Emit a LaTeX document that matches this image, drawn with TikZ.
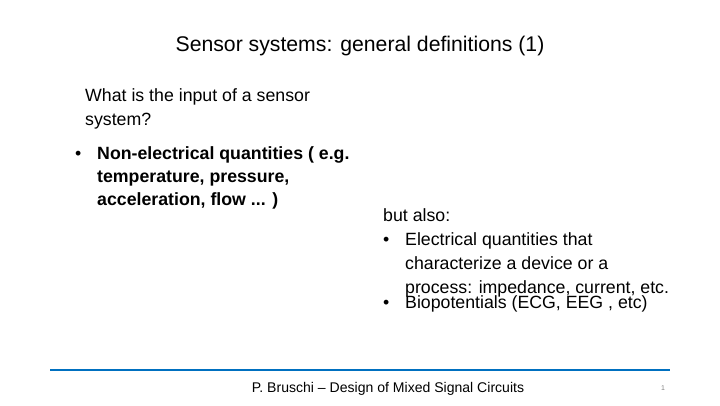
\documentclass[tikz,border=0pt]{standalone}
\usepackage{fontspec}
\setmainfont{Liberation Sans}
\begin{document}
\begin{tikzpicture}[x=1bp,y=-1bp]
    \useasboundingbox (0,0) rectangle (720,405);
    \node[anchor=base] (title) at (360,51) {\fontsize{21.3}{25}\selectfont Sensor systems: general definitions (1)};
    \fontsize{17.8}{23.8}\selectfont
    \tikzset{line/.style={anchor=base west,inner sep=0}}
    \node[line] (questiona) at (85,101) {What is the input of a sensor};
    \node[line] (questionb) at (85,125) {system?};
    \node[line] (bulleta) at (75,159) {\textbullet};
    \node[line] (nonela) at (97,159) {\bfseries Non-electrical quantities ( e.g.};
    \node[line] (nonelb) at (97,182) {\bfseries temperature, pressure,};
    \node[line] (nonelc) at (97,205) {\bfseries acceleration, flow ... )};
    \node[line] (butalso) at (383,221) {but also:};
    \node[line] (bulletb) at (383,245) {\textbullet};
    \node[line] (eleca) at (405,245) {Electrical quantities that};
    \node[line] (elecb) at (405,269) {characterize a device or a};
    \node[line] (elecc) at (405,293) {process: impedance, current, etc.};
    \node[line] (bulletc) at (383,308) {\textbullet};
    \node[line] (bio) at (405,308) {Biopotentials (ECG, EEG , etc)};
    \draw[color={rgb,255:red,0;green,112;blue,192},line width=1.5bp] (50,370) -- (670,370);
    \node[anchor=base] (footer) at (388,392) {\fontsize{14.1}{16}\selectfont P. Bruschi -- Design of Mixed Signal Circuits};
    \node[anchor=base] (page) at (663,390) {\fontsize{7}{8}\selectfont\color{gray}1};
  \end{tikzpicture}
\end{document}
